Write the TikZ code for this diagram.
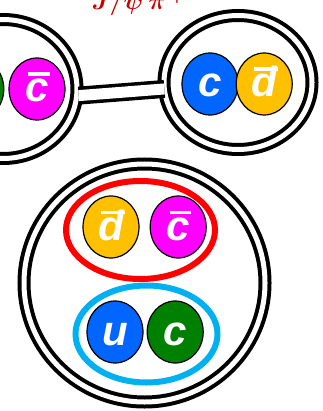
\documentclass[tikz,border=0pt]{standalone}
\usepackage{fontspec}
\usetikzlibrary{shapes.geometric,positioning}
\newfontfamily\quarkfont{Liberation Sans}
\definecolor{qblue}{RGB}{0,102,255}
\definecolor{qyellow}{RGB}{255,192,0}
\definecolor{qmagenta}{RGB}{255,0,255}
\definecolor{qgreen}{RGB}{0,128,0}
\definecolor{pairred}{RGB}{255,0,0}
\definecolor{paircyan}{RGB}{0,176,240}
\definecolor{labelred}{RGB}{204,0,0}
% antiquark: letter with a bar on top
\newcommand{\antiq}[1]{\setbox0=\hbox{#1}%
  \rlap{\kern3pt\rule[26pt]{\dimexpr\wd0-2pt\relax}{3.5pt}}\box0}

\begin{document}
\begin{tikzpicture}[
  x=1pt, y=-1pt,
  font=\quarkfont\bfseries\itshape\fontsize{42}{42}\selectfont,
  quark/.style={ellipse, draw, line width=1.2pt, inner sep=0pt,
                minimum width=56pt, minimum height=62pt,
                text=white, text height=26pt, text depth=0pt},
  hadron/.style={ellipse, draw, line width=4pt, double, double distance=5pt,
                 inner sep=0pt},
  pair/.style={ellipse, draw, line width=6pt, inner sep=0pt}]
\useasboundingbox (0,0) rectangle (322,411);
\node[text=labelred, anchor=base, font=\fontsize{54}{54}\selectfont\boldmath]
  (decay) at (140,10) {$J/\psi\,\pi^{+}$};
% the three hadrons
\node[hadron, minimum width=148pt, minimum height=139pt] (lmol) at (3,89) {};
\node[hadron, minimum width=148pt, minimum height=134pt] (rmol) at (238,82.5) {};
\node[hadron, minimum width=241pt, minimum height=238pt] (bmol) at (144.5,283) {};
\node[pair, draw=paircyan, minimum width=142pt, minimum height=97pt] (cupair) at (146.5,334) {};
\node[pair, draw=pairred, minimum width=149pt, minimum height=98pt] (rdpair) at (140.5,230) {};
% quarks
\node[quark, fill=qmagenta] (lcbar) at (37,89) {\antiq{c}};
\node[quark, fill=qgreen, left=4pt of lcbar] (lc) {c};
\node[quark, fill=qblue] (rc) at (210,84) {c};
\node[quark, fill=qyellow, right=-3pt of rc] (rdbar) {\antiq{d}};
\node[quark, fill=qyellow] (bdbar) at (111,227) {\antiq{d}};
\node[quark, fill=qmagenta, right=10pt of bdbar] (bcbar) {\antiq{c}};
\node[quark, fill=qblue] (bu) at (115,332) {u};
\node[quark, fill=qgreen, right=3pt of bu] (bc) {c};
% bond
\draw[line width=3.5pt, double, double distance=11pt, shorten >=-2pt]
  (lmol.-5) -- (rmol.185);
\end{tikzpicture}
\end{document}
